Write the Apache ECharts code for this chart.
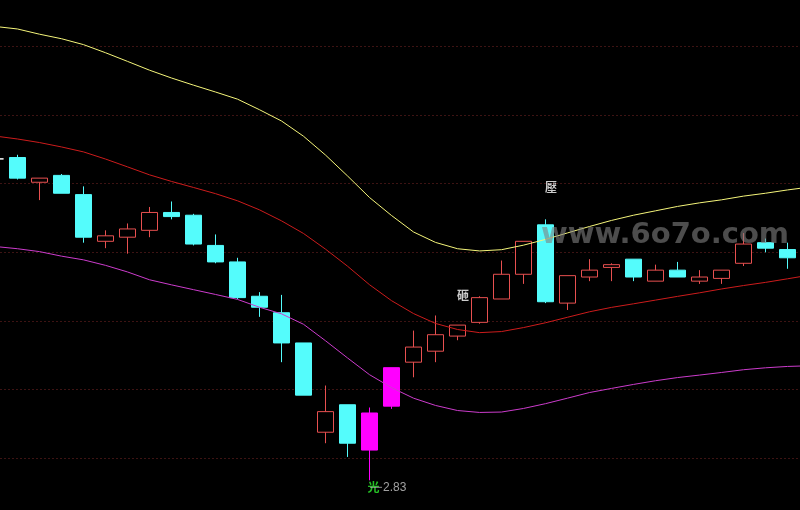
<!DOCTYPE html>
<html>
<head>
<meta charset="utf-8">
<script src="https://cdn.jsdelivr.net/npm/echarts@6/dist/echarts.min.js"></script>
<style>
html,body{margin:0;padding:0;background:#000}
#main{width:800px;height:510px}
</style>
</head>
<body>
<div id="main"></div>
<script>
// K线，第0根只露出一点
let days = Array.from({length: 38}, (v, i) => 'D' + (i + 1))
let open  = [3.068, 3.069, 3.051, 3.056, 3.042, 3.008, 3.011, 3.016, 3.029, 3.027, 3.005, 2.993, 2.968, 2.956, 2.934, 2.869, 2.889, 2.883, 2.888, 2.920, 2.928, 2.939, 2.949, 2.966, 2.984, 3.020, 2.963, 2.982, 2.989, 2.995, 2.979, 2.987, 2.979, 2.981, 2.992, 3.007, 3.002]
let close = [3.068, 3.054, 3.054, 3.043, 3.011, 3.012, 3.017, 3.029, 3.026, 3.006, 2.993, 2.967, 2.960, 2.934, 2.896, 2.884, 2.861, 2.856, 2.916, 2.931, 2.940, 2.947, 2.967, 2.984, 3.008, 2.964, 2.983, 2.987, 2.991, 2.982, 2.987, 2.982, 2.982, 2.987, 3.006, 3.003, 2.996]
let low   = [3.068, 3.053, 3.038, 3.043, 3.007, 3.003, 2.999, 3.011, 3.024, 3.005, 2.992, 2.966, 2.953, 2.920, 2.896, 2.861, 2.851, 2.834, 2.886, 2.909, 2.920, 2.936, 2.948, 2.966, 2.977, 2.963, 2.958, 2.979, 2.979, 2.979, 2.979, 2.982, 2.977, 2.977, 2.990, 3.000, 2.988]
let high  = [3.068, 3.071, 3.054, 3.057, 3.048, 3.016, 3.021, 3.033, 3.037, 3.028, 3.013, 2.996, 2.971, 2.969, 2.934, 2.903, 2.889, 2.887, 2.916, 2.943, 2.954, 2.947, 2.968, 2.994, 3.008, 3.024, 2.983, 2.995, 2.992, 2.995, 2.991, 2.993, 2.987, 2.987, 3.014, 3.010, 3.007]
let pinkIdx = [17, 18]
let dojiIdx = [0]

// 三条轨道线
let upper = [3.1644, 3.1626, 3.1588, 3.1555, 3.1512, 3.1453, 3.1390, 3.1326, 3.1269, 3.1217, 3.1167, 3.1115, 3.1038, 3.0956, 3.0845, 3.0708, 3.0556, 3.0399, 3.0268, 3.0148, 3.0072, 3.0026, 3.0010, 3.0019, 3.0052, 3.0094, 3.0141, 3.0188, 3.0232, 3.0270, 3.0302, 3.0334, 3.0360, 3.0382, 3.0409, 3.0430, 3.0454, 3.0475]
let mid   = [3.0846, 3.0825, 3.0799, 3.0767, 3.0731, 3.0679, 3.0622, 3.0564, 3.0516, 3.0472, 3.0427, 3.0375, 3.0309, 3.0229, 3.0137, 3.0023, 2.9899, 2.9764, 2.9648, 2.9554, 2.9482, 2.9438, 2.9415, 2.9423, 2.9452, 2.9487, 2.9527, 2.9567, 2.9599, 2.9625, 2.9652, 2.9679, 2.9705, 2.9733, 2.9758, 2.9781, 2.9807, 2.9834]
let lower = [3.0042, 3.0026, 3.0005, 2.9972, 2.9945, 2.9905, 2.9857, 2.9800, 2.9763, 2.9728, 2.9693, 2.9657, 2.9600, 2.9552, 2.9476, 2.9356, 2.9231, 2.9109, 2.9015, 2.8938, 2.8885, 2.8848, 2.8834, 2.8837, 2.8863, 2.8898, 2.8938, 2.8979, 2.9009, 2.9038, 2.9065, 2.9088, 2.9106, 2.9125, 2.9145, 2.9159, 2.9169, 2.9174]

// 文字标记
let signIdx = [21, 25]
let signPrice = [2.9726, 3.0512]
let signText = ['砸', '壓']
let lowIdx = 17

let yMin = 2.80, yMax = 3.20, yStep = 0.05

let kData = open.map((o, i) => {
  let item = {value: [o, close[i], low[i], high[i]]}
  let c = pinkIdx.indexOf(i) >= 0 ? '#ff00ff' : dojiIdx.indexOf(i) >= 0 ? '#ffffff' : null
  if (c) item.itemStyle = {color: c, color0: c, borderColor: c, borderColor0: c}
  return item
})

let textData = signIdx.map((x, i) => {
  return {value: [x, signPrice[i]], label: {formatter: signText[i], color: '#ffffff'}}
})
textData.push({value: [lowIdx, low[lowIdx]], label: {formatter: '光', color: '#2ef02e', offset: [-1.5, 1.5]}})
textData.push({
  value: [lowIdx, low[lowIdx]],
  label: {
    position: 'right', distance: 0, offset: [0, 1],
    fontWeight: 'normal',
    formatter: '{l| }{t|' + low[lowIdx].toFixed(2) + '}',
    rich: {
      l: {width: 12, height: 1, backgroundColor: '#b8b8b8', verticalAlign: 'middle'},
      t: {color: '#c8c8c8', fontSize: 12, fontFamily: 'Liberation Sans', padding: [0, 0, 0, 1], verticalAlign: 'middle'}
    }
  }
})

let lineBas = (data, color) => {
  return {
    type: 'line', data: data, showSymbol: false, silent: true,
    lineStyle: {color: color, width: 1}, z: 3
  }
}

let myChart = echarts.init(document.getElementById('main'))
myChart.setOption({
  backgroundColor: '#000',
  animation: false,
  grid: {left: -15.5, right: -20.5, top: -22.4, bottom: -17, outerBoundsMode: 'none'},
  xAxis: {
    type: 'category', data: days, boundaryGap: true,
    axisLine: {show: false}, axisTick: {show: false}, axisLabel: {show: false}, splitLine: {show: false}
  },
  yAxis: {
    type: 'value', min: yMin, max: yMax, interval: yStep, scale: true,
    axisLine: {show: false}, axisTick: {show: false}, axisLabel: {show: false},
    splitLine: {show: true, lineStyle: {color: '#7a2626', width: 1, type: [1, 3]}}
  },
  graphic: [{
    type: 'text', z: 100, silent: true,
    style: {
      x: 541, y: 235, text: 'www.6o7o.com', verticalAlign: 'middle',
      font: 'bold 29px "DejaVu Sans"', fill: 'rgba(128,128,128,0.6)'
    }
  }],
  series: [
    {
      type: 'candlestick', data: kData, barWidth: 17, z: 2,
      itemStyle: {color: '#000', color0: '#54fcfc', borderColor: '#e85050', borderColor0: '#54fcfc', borderWidth: 1}
    },
    lineBas(upper, '#f5f57a'),
    lineBas(mid, '#cc1c1c'),
    lineBas(lower, '#cc3ccc'),
    {
      type: 'scatter', data: textData, symbolSize: 1, z: 5, silent: true,
      itemStyle: {color: 'rgba(0,0,0,0)'},
      label: {
        show: true, position: [0, 0], align: 'left', verticalAlign: 'top',
        fontSize: 12, fontWeight: 'bold', fontFamily: 'Noto Sans CJK SC'
      }
    }
  ]
})
</script>
</body>
</html>
